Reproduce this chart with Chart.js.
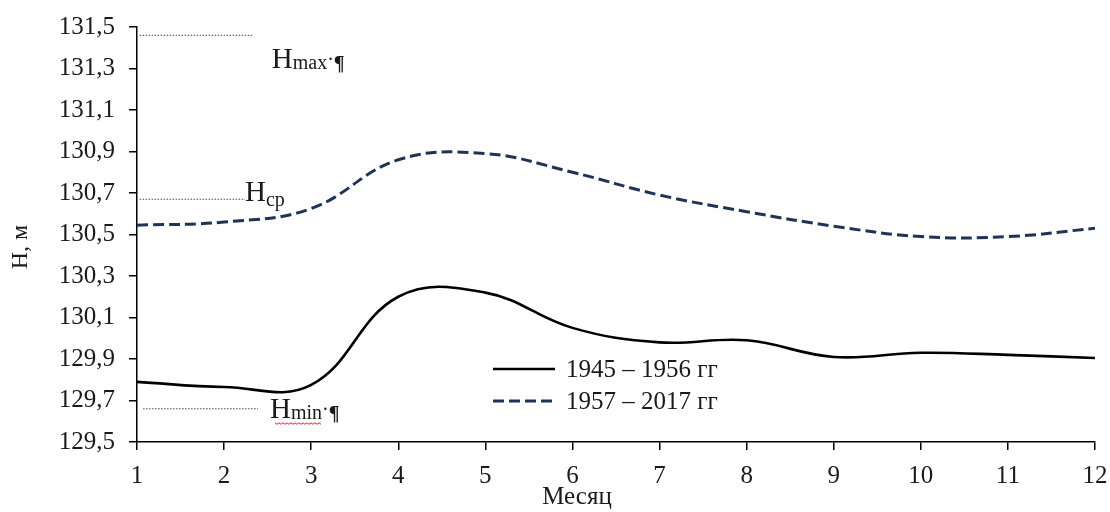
<!DOCTYPE html>
<html>
<head>
<meta charset="utf-8">
<script src="https://cdn.jsdelivr.net/npm/chart.js@4.4.0/dist/chart.umd.min.js"></script>
<style>
  html, body { margin: 0; padding: 0; background: #fff; }
  #wrap { width: 1110px; height: 512px; position: relative; }
</style>
</head>
<body>
<div id="wrap"><canvas id="chart"></canvas></div>
<script>
// monthly water level, m
const months = [1, 2, 3, 4, 5, 6, 7, 8, 9, 10, 11, 12];
const level1945 = [129.79, 129.765, 129.775, 130.2, 130.22, 130.05, 129.98, 129.99, 129.91, 129.93, 129.92, 129.905];
const level1957 = [130.545, 130.56, 130.625, 130.86, 130.89, 130.80, 130.69, 130.61, 130.54, 130.49, 130.49, 130.53];
const seriesNames = ['1945 – 1956 гг', '1957 – 2017 гг'];
const yTicks = [129.5, 129.7, 129.9, 130.1, 130.3, 130.5, 130.7, 130.9, 131.1, 131.3, 131.5];

// reference levels Hmax, Hср, Hmin and the month range of their dotted marks
const refNames = ['max', 'ср', 'min'];
const refValues = [131.46, 130.67, 129.66];
const refFrom = [1.03, 1.03, 1.07];
const refTo = [2.33, 2.24, 2.39];

const FONT = 'Liberation Serif';
Chart.defaults.font.family = FONT;

const toPts = vals => months.map((m, i) => ({ x: m, y: vals[i] }));

const refSets = refValues.map((v, i) => ({
  label: 'H' + refNames[i],
  data: [{ x: refFrom[i], y: v }, { x: refTo[i], y: v }],
  borderColor: '#444',
  borderWidth: 1,
  borderDash: [1.5, 1.5],
  pointRadius: 0,
  tension: 0
}));

// label offsets from the right end of each dotted mark
const refLabelDx = [19, 0, 12];
const refLabelDy = [33, 2, 9];
const refSubDy = [1, 5, 1];

const textPlugin = {
  id: 'texts',
  afterDraw(chart) {
    const ctx = chart.ctx;
    const xs = chart.scales.x, ys = chart.scales.y;
    ctx.save();
    ctx.fillStyle = '#1a1a1a';

    // axis titles
    ctx.font = '25px ' + FONT;
    ctx.textAlign = 'center';
    ctx.textBaseline = 'middle';
    ctx.fillText('Месяц', 577, 497);
    ctx.save();
    ctx.translate(21, 247);
    ctx.rotate(-Math.PI / 2);
    ctx.font = '24px ' + FONT;
    ctx.fillText('Н, м', 0, 0);
    ctx.restore();

    // reference level labels
    ctx.textAlign = 'left';
    ctx.textBaseline = 'alphabetic';
    refValues.forEach((v, i) => {
      let x = xs.getPixelForValue(refTo[i]) + refLabelDx[i];
      const base = ys.getPixelForValue(v) + refLabelDy[i];
      ctx.font = '29px ' + FONT;
      ctx.fillText('H', x, base);
      x += ctx.measureText('H').width;
      ctx.font = '20px ' + FONT;
      const sub = refNames[i];
      const subW = ctx.measureText(sub).width;
      ctx.fillText(sub, x, base + refSubDy[i]);
      if (i === 2) {
        // red spell-check squiggle
        ctx.save();
        ctx.strokeStyle = '#d22';
        ctx.lineWidth = 1;
        ctx.beginPath();
        for (let k = 0; k <= subW + 16; k += 2) {
          const px = x - 16 + k, py = base + 5 + (k % 4 === 0 ? 0 : 1.5);
          if (k === 0) ctx.moveTo(px, py); else ctx.lineTo(px, py);
        }
        ctx.stroke();
        ctx.restore();
      }
      if (i !== 1) {
        x += subW;
        ctx.fillText('·', x, base + refSubDy[i] - 3);
        x += ctx.measureText('·').width;
        ctx.font = 'bold 20px ' + FONT;
        ctx.fillText('¶', x, base + refSubDy[i] + 1);
      }
    });

    // legend
    const legY = [369, 401];
    const legSets = [chart.data.datasets[0], chart.data.datasets[1]];
    legSets.forEach((ds, i) => {
      ctx.save();
      ctx.strokeStyle = ds.borderColor;
      ctx.lineWidth = ds.borderWidth;
      ctx.setLineDash(ds.borderDash || []);
      ctx.beginPath();
      ctx.moveTo(493, legY[i]);
      ctx.lineTo(555, legY[i]);
      ctx.stroke();
      ctx.restore();
      ctx.font = '25px ' + FONT;
      ctx.textBaseline = 'middle';
      ctx.fillText(seriesNames[i], 566, legY[i] + 1);
    });
    ctx.restore();
  }
};

new Chart(document.getElementById('chart'), {
  type: 'line',
  data: {
    datasets: [
      {
        label: seriesNames[0],
        data: toPts(level1945),
        borderColor: '#000',
        borderWidth: 2.6,
        pointRadius: 0,
        tension: 0.4
      },
      {
        label: seriesNames[1],
        data: toPts(level1957),
        borderColor: '#1f3354',
        borderWidth: 3,
        borderDash: [11, 5],
        pointRadius: 0,
        tension: 0.4
      },
      ...refSets
    ]
  },
  options: {
    responsive: true,
    maintainAspectRatio: false,
    animation: false,
    layout: { padding: { top: 27, right: 15, left: 0, bottom: 0 } },
    plugins: {
      legend: { display: false },
      tooltip: { enabled: false }
    },
    scales: {
      x: {
        type: 'linear',
        min: 1,
        max: 12,
        afterFit: s => { s.height = 70; s.paddingLeft = 0; s.paddingRight = 0; },
        ticks: { stepSize: 1, color: '#1a1a1a', font: { size: 25 }, padding: 11 },
        grid: { drawOnChartArea: false, drawTicks: true, tickLength: 8, color: '#000', lineWidth: 1.5 },
        border: { color: '#000', width: 1.5 }
      },
      y: {
        min: 129.5,
        max: 131.5,
        afterFit: s => { s.width = 137; s.paddingTop = 0; s.paddingBottom = 0; },
        afterBuildTicks: s => { s.ticks = yTicks.map(v => ({ value: v })); },
        ticks: {
          color: '#1a1a1a',
          font: { size: 25 },
          padding: 14,
          callback: v => v.toFixed(1).replace('.', ',')
        },
        grid: { drawOnChartArea: false, drawTicks: true, tickLength: 8, color: '#000', lineWidth: 1.5 },
        border: { color: '#000', width: 1.5 }
      }
    }
  },
  plugins: [textPlugin]
});
</script>
</body>
</html>
